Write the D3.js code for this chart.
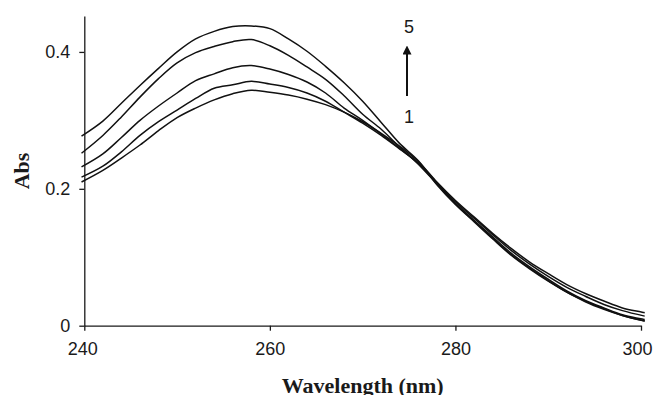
<!DOCTYPE html>
<html>
<head>
<meta charset="utf-8">
<script src="https://cdn.jsdelivr.net/npm/d3@7"></script>
<style>
body { margin: 0; background: #fff; }
svg { display: block; }
.tick text { font-family: "Liberation Sans", Arial, sans-serif; font-size: 18px; fill: #1a1a1a; }
.axis path, .axis line { stroke: #1a1a1a; stroke-width: 1.3; }
.axis-title { font-family: "Liberation Serif", "Times New Roman", serif; font-weight: bold; font-size: 22px; fill: #1a1a1a; }
</style>
</head>
<body>
<div id="chart"></div>
<script>
let svgWidth = 653;
let svgHeight = 395;

// wavelength grid (nm)
let wavelengths = [239.7, 242, 244, 246, 248, 250, 252, 254, 256, 258, 260, 262, 264, 266, 268, 270,
  272, 274, 276, 278, 280, 282, 284, 286, 288, 290, 292, 294, 296, 298, 300.4];

// absorbance, spectra 1 (lowest peak) to 5 (highest peak)
let abs1 = [0.210, 0.227, 0.245, 0.264, 0.285, 0.304, 0.318, 0.330, 0.339, 0.344, 0.341, 0.337, 0.331, 0.323, 0.312, 0.298,
  0.281, 0.262, 0.240, 0.210, 0.183, 0.159, 0.135, 0.113, 0.093, 0.076, 0.060, 0.047, 0.036, 0.026, 0.019];
let abs2 = [0.217, 0.233, 0.254, 0.278, 0.298, 0.315, 0.332, 0.347, 0.352, 0.357, 0.353, 0.348, 0.340, 0.328, 0.312, 0.296,
  0.278, 0.258, 0.238, 0.209, 0.181, 0.157, 0.133, 0.110, 0.090, 0.072, 0.056, 0.043, 0.031, 0.022, 0.014];
let abs3 = [0.232, 0.251, 0.275, 0.300, 0.321, 0.340, 0.358, 0.368, 0.377, 0.380, 0.375, 0.367, 0.356, 0.340, 0.318, 0.300,
  0.280, 0.259, 0.237, 0.208, 0.179, 0.154, 0.130, 0.106, 0.086, 0.068, 0.051, 0.037, 0.026, 0.016, 0.009];
let abs4 = [0.252, 0.278, 0.305, 0.334, 0.361, 0.384, 0.399, 0.408, 0.415, 0.418, 0.409, 0.395, 0.378, 0.360, 0.336, 0.309,
  0.287, 0.261, 0.236, 0.207, 0.178, 0.153, 0.128, 0.104, 0.084, 0.066, 0.049, 0.036, 0.025, 0.015, 0.007];
let abs5 = [0.277, 0.299, 0.325, 0.351, 0.376, 0.400, 0.419, 0.430, 0.437, 0.438, 0.434, 0.419, 0.401, 0.379, 0.355, 0.328,
  0.297, 0.266, 0.241, 0.206, 0.177, 0.152, 0.127, 0.103, 0.083, 0.065, 0.049, 0.035, 0.024, 0.015, 0.007];

let xTicks = [240, 260, 280, 300];
let yTicks = [0, 0.2, 0.4];

let margin = { left: 84.3, right: 12, top: 16, bottom: 69.3 };

let svg = d3.select("#chart")
  .append("svg")
  .attr("width", svgWidth)
  .attr("height", svgHeight);

let xScale = d3.scaleLinear()
  .domain([240, 300])
  .range([margin.left, 641]);

let yScale = d3.scaleLinear()
  .domain([0, 0.4525])
  .range([svgHeight - margin.bottom, margin.top]);

// axes
let bottomAxis = d3.axisBottom(xScale)
  .tickValues(xTicks)
  .tickSizeInner(5)
  .tickSizeOuter(0)
  .tickPadding(12)
  .tickFormat(d3.format("d"));

let leftAxis = d3.axisLeft(yScale)
  .tickValues(yTicks)
  .tickSizeInner(5)
  .tickSizeOuter(0)
  .tickPadding(9)
  .tickFormat(d => d === 0 ? "0" : d3.format(".1f")(d));

let xAxis = svg.append("g")
  .attr("class", "axis")
  .attr("transform", `translate(0, ${yScale(0)})`)
  .call(bottomAxis);

// last label sits a little inside the frame
xAxis.selectAll(".tick text")
  .attr("dx", d => d === 300 ? -4 : (d === 240 ? -2 : 0));

svg.append("g")
  .attr("class", "axis")
  .attr("transform", `translate(${margin.left}, 0)`)
  .call(leftAxis);

// spectra
let series = [abs1, abs2, abs3, abs4, abs5];

let line = d3.line()
  .x((d, i) => xScale(wavelengths[i]))
  .y(d => yScale(d))
  .curve(d3.curveCatmullRom.alpha(0.5));

svg.append("g")
  .selectAll("path")
  .data(series)
  .enter()
  .append("path")
  .attr("d", d => line(d))
  .attr("fill", "none")
  .attr("stroke", "#111")
  .attr("stroke-width", 1.5);

// arrow 1 -> 5
svg.append("defs").append("marker")
  .attr("id", "head")
  .attr("viewBox", "0 0 10 10")
  .attr("refX", 5)
  .attr("refY", 5)
  .attr("markerUnits", "userSpaceOnUse")
  .attr("markerWidth", 9)
  .attr("markerHeight", 9)
  .attr("orient", "auto")
  .append("path")
  .attr("d", "M0,0 L10,5 L0,10 Z")
  .attr("fill", "#111");

svg.append("line")
  .attr("x1", 407).attr("y1", 96)
  .attr("x2", 407).attr("y2", 50)
  .attr("stroke", "#111")
  .attr("stroke-width", 2)
  .attr("marker-end", "url(#head)");

svg.append("text")
  .attr("x", 409).attr("y", 33)
  .attr("text-anchor", "middle")
  .style("font-family", "Liberation Sans, Arial, sans-serif")
  .style("font-size", "18px")
  .attr("fill", "#1a1a1a")
  .text("5");

svg.append("text")
  .attr("x", 409).attr("y", 123)
  .attr("text-anchor", "middle")
  .style("font-family", "Liberation Sans, Arial, sans-serif")
  .style("font-size", "18px")
  .attr("fill", "#1a1a1a")
  .text("1");

// axis titles
svg.append("text")
  .attr("class", "axis-title")
  .attr("x", 362.7)
  .attr("y", 393)
  .attr("text-anchor", "middle")
  .text("Wavelength (nm)");

svg.append("text")
  .attr("class", "axis-title")
  .attr("transform", "translate(29, 171) rotate(-90)")
  .attr("text-anchor", "middle")
  .text("Abs");
</script>
</body>
</html>
